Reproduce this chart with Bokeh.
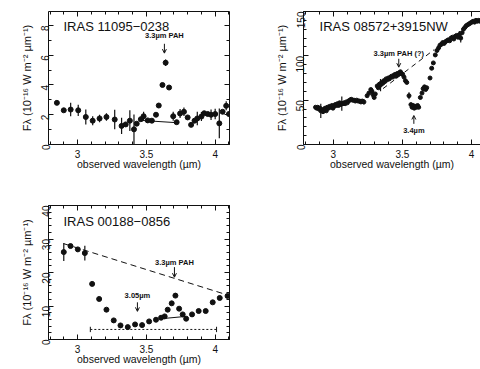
import math
from bokeh.plotting import figure
from bokeh.layouts import column, row
from bokeh.models import (Range1d, LinearAxis, Label, Arrow, OpenHead,
                          SingleIntervalTicker, CustomJSTickFormatter,
                          CustomLabelingPolicy)
from bokeh.embed import file_html
from bokeh.resources import INLINE

FONT = "Liberation Sans"
INK = "#111111"

# ---------------- data: IRAS 11095-0238 ----------------
p1_wl = [2.85, 2.90, 2.95, 3.005, 3.06, 3.11, 3.16, 3.21, 3.27, 3.32, 3.35, 3.38,
         3.41, 3.43, 3.46, 3.48, 3.51, 3.54, 3.57, 3.59, 3.617, 3.64, 3.665, 3.695,
         3.72, 3.745, 3.773, 3.80, 3.825, 3.85, 3.87, 3.90, 3.92, 3.946, 3.97, 4.0,
         4.03, 4.054, 4.08, 4.10]
p1_flux = [2.8, 2.3, 2.35, 2.3, 1.85, 1.6, 1.75, 1.85, 1.68, 1.25, 1.35, 1.6,
           1.02, 1.4, 1.7, 1.9, 1.62, 1.6, 2.0, 2.62, 4.0, 5.5, 3.83, 1.9,
           1.5, 2.08, 2.2, 1.82, 1.32, 1.6, 1.75, 1.88, 2.1, 2.05, 2.0, 2.05,
           1.42, 2.2, 2.6, 2.05]
p1_err = [0, 0, 0.45, 0.38, 0.5, 0.3, 0.25, 0.25, 0.65, 0.55, 0, 0.7,
          1.0, 0, 0, 0.3, 0, 0, 0, 0, 0, 0.22, 0, 0.3,
          0, 0.3, 0.28, 0, 0, 0, 0.45, 0.3, 0, 0, 0.35, 0.35,
          1.0, 0, 0.3, 0]
p1_base_wl = [3.46, 3.715]
p1_base_flux = [1.62, 1.47]

# ---------------- data: IRAS 08572+3915NW ----------------
p2_wl = [2.872, 2.880, 2.888, 2.896, 2.904, 2.910, 2.918, 2.926, 2.934, 2.942,
         2.950, 2.958, 2.966, 2.974, 2.982, 2.990, 2.998, 3.006, 3.014, 3.022,
         3.030, 3.038, 3.046, 3.054, 3.062, 3.070, 3.078, 3.086, 3.094, 3.102,
         3.110, 3.120, 3.130, 3.140, 3.150, 3.160, 3.170, 3.180, 3.190, 3.200,
         3.210, 3.222, 3.245, 3.258, 3.272, 3.280, 3.288, 3.296, 3.304, 3.318,
         3.326, 3.334, 3.342, 3.350, 3.358, 3.366, 3.374, 3.382, 3.390, 3.398,
         3.406, 3.414, 3.422, 3.430, 3.438, 3.446, 3.454, 3.462, 3.470, 3.478,
         3.486, 3.494, 3.502, 3.512, 3.522, 3.532, 3.548, 3.562, 3.570, 3.578,
         3.586, 3.594, 3.602, 3.610, 3.618, 3.630, 3.642, 3.650, 3.660, 3.668,
         3.676, 3.700, 3.712, 3.724, 3.738, 3.750, 3.762, 3.772, 3.782, 3.792,
         3.802, 3.812, 3.822, 3.832, 3.842, 3.852, 3.862, 3.872, 3.882, 3.892,
         3.902, 3.912, 3.922, 3.932, 3.942, 3.952, 3.962, 3.972, 3.982, 3.992,
         4.002, 4.012, 4.022, 4.032, 4.042, 4.052, 4.062]
p2_flux = [42, 41, 42, 40, 41, 38, 39, 37, 40, 41,
           38, 42, 41, 43, 42, 44, 41, 43, 45, 44,
           46, 44, 47, 45, 46, 46, 47, 46, 48, 47,
           49, 50, 51, 50, 50, 49, 50, 49, 49, 48,
           49, 48, 55, 58, 62, 60, 56, 53, 57, 66,
           64, 68, 67, 70, 69, 72, 71, 74, 73, 75,
           74, 76, 77, 76, 78, 79, 77, 80, 79, 81,
           82, 80, 79, 76, 72, 70, 55, 45, 42, 44,
           41, 43, 42, 44, 42, 53, 58, 63, 65, 62,
           64, 75, 86, 92, 101, 106, 109, 112, 113, 115,
           114, 116, 117, 118, 117, 120, 121, 119, 122, 123,
           121, 124, 120, 126, 130, 132, 134, 135, 136, 137,
           138, 139, 138, 140, 139, 140, 139]
p2_err_wl = [2.910, 3.062, 3.222, 3.342, 3.548, 3.922, 3.912]
p2_err_flux = [38, 46, 48, 67, 55, 120, 124]
p2_err = [8, 8, 3, 7, 4, 5, 4]
p2_cont_wl = [3.36, 3.73]
p2_cont_flux = [63, 107]

# ---------------- data: IRAS 00188-0856 ----------------
p3_wl = [2.90, 2.949, 3.002, 3.053, 3.106, 3.157, 3.21, 3.263, 3.312, 3.365,
         3.418, 3.469, 3.52, 3.57, 3.607, 3.633, 3.655, 3.684, 3.711, 3.738,
         3.764, 3.789, 3.832, 3.88, 3.931, 3.982, 4.033, 4.09]
p3_flux = [26.1, 27.9, 26.9, 25.8, 16.6, 12.1, 8.9, 5.7, 4.2, 3.7,
           4.5, 4.3, 5.4, 5.9, 6.5, 6.9, 8.9, 10.8, 13.1, 9.2,
           7.5, 6.2, 7.5, 8.5, 8.5, 11.1, 12.4, 13.0]
p3_err = [2.7, 0, 0, 2.2, 0, 0, 0, 0, 0.7, 0,
          0.5, 0, 0, 0, 0, 0, 0.6, 0.6, 0, 0,
          0, 0, 0, 0, 0, 0.5, 0.6, 0]
p3_cont_wl = [2.90, 4.104]
p3_cont_flux = [28.6, 13.1]
p3_base_wl = [3.607, 3.789]
p3_base_flux = [6.2, 6.9]
p3_band_wl = [3.093, 4.01]
p3_band_flux = [3.0, 3.0]

XTICK_FMT = CustomJSTickFormatter(code="return String(tick);")
YLABEL = "F\u03bb (10\u207b\u00b9\u2076 W m\u207b\u00b2 \u00b5m\u207b\u00b9)"
XLABEL = "observed wavelength (\u00b5m)"


def style_axis(ax, labels=True):
    ax.axis_line_color = INK
    ax.axis_line_width = 1
    ax.major_tick_line_color = INK
    ax.minor_tick_line_color = INK
    ax.major_tick_in = 5
    ax.major_tick_out = 0
    ax.minor_tick_in = 3
    ax.minor_tick_out = 0
    ax.major_label_text_font = FONT
    ax.major_label_text_color = INK
    ax.axis_label_text_font = FONT
    ax.axis_label_text_font_style = "normal"
    ax.axis_label_text_color = INK
    if not labels:
        ax.major_label_policy = CustomLabelingPolicy(code="return;")
        ax.major_label_standoff = 0
        ax.axis_label = None


def make_panel(xr, yr, width, height, bl, br, bt, bb, xint, yint, yminor,
               right_axis=True, xstand=5, xlab_stand=-3):
    p = figure(width=width, height=height, x_range=Range1d(*xr), y_range=Range1d(*yr),
               output_backend="svg", toolbar_location=None,
               min_border_left=bl, min_border_right=br, min_border_top=bt,
               min_border_bottom=bb, background_fill_color="white",
               border_fill_color="white", outline_line_color=None)
    p.grid.visible = False
    xt = SingleIntervalTicker(interval=xint, num_minor_ticks=5)
    yt = SingleIntervalTicker(interval=yint, num_minor_ticks=yminor)
    xa = p.xaxis[0]
    xa.ticker = xt
    xa.formatter = XTICK_FMT
    style_axis(xa)
    xa.major_label_text_font_size = "10px"
    xa.major_label_standoff = xstand
    xa.axis_label = XLABEL
    xa.axis_label_text_font_size = "10.5px"
    xa.axis_label_standoff = xlab_stand
    ya = p.yaxis[0]
    ya.ticker = yt
    style_axis(ya)
    ya.major_label_text_font_size = "10px"
    ya.major_label_orientation = math.pi / 2
    ya.major_label_standoff = 3
    ya.axis_label = YLABEL
    ya.axis_label_text_font_size = "11px"
    ya.axis_label_standoff = 2
    top = LinearAxis(ticker=SingleIntervalTicker(interval=xint, num_minor_ticks=5))
    style_axis(top, labels=False)
    p.add_layout(top, "above")
    if right_axis:
        rt = LinearAxis(ticker=SingleIntervalTicker(interval=yint, num_minor_ticks=yminor))
        style_axis(rt, labels=False)
        p.add_layout(rt, "right")
    return p


def err_bars(p, xs, ys, es, width=1.2):
    x0, y0, y1 = [], [], []
    for x, y, e in zip(xs, ys, es):
        if e > 0:
            x0.append(x)
            y0.append(y - e)
            y1.append(y + e)
    p.segment(x0=x0, y0=y0, x1=x0, y1=y1, line_color=INK, line_width=width)


def note(p, x, y, text, size="7.5px"):
    p.add_layout(Label(x=x, y=y, text=text, text_align="center", text_baseline="middle",
                       text_font=FONT, text_font_size=size, text_font_style="bold",
                       text_color=INK))


def arrow(p, x, y0, y1):
    p.add_layout(Arrow(end=OpenHead(size=4, line_width=1, line_color=INK),
                       x_start=x, y_start=y0, x_end=x, y_end=y1,
                       line_color=INK, line_width=1))


def title(p, x, y, text):
    p.add_layout(Label(x=x, y=y, text=text, text_align="left", text_baseline="alphabetic",
                       text_font=FONT, text_font_size="13px", text_color=INK))


# ---- panel 1 ----
p1 = make_panel((2.789, 4.104), (0, 8.94), 263, 185, 48, 34, 11, 41, 0.5, 2, 2)
err_bars(p1, p1_wl, p1_flux, p1_err)
p1.line(p1_base_wl, p1_base_flux, line_color=INK, line_width=1)
p1.scatter(p1_wl, p1_flux, size=5, color=INK)
title(p1, 2.898, 7.93, "IRAS 11095\u22120238")
note(p1, 3.631, 7.33, "3.3\u00b5m PAH")
arrow(p1, 3.631, 6.77, 6.14)

# ---- panel 2 ----
p2 = make_panel((2.785, 4.065), (0, 150), 217, 185, 40, 0, 11, 41, 0.5, 50, 5,
                right_axis=False)
p2.line(p2_cont_wl, p2_cont_flux, line_color=INK, line_width=1, line_dash="5 4")
err_bars(p2, p2_err_wl, p2_err_flux, p2_err)
p2.scatter(p2_wl, p2_flux, size=4, color=INK)
title(p2, 2.901, 133, "IRAS 08572+3915NW")
note(p2, 3.474, 102.3, "3.3\u00b5m PAH (?)")
arrow(p2, 3.474, 96.7, 87.2)
note(p2, 3.583, 15.8, "3.4\u00b5m")
arrow(p2, 3.583, 23.3, 32.7)

# ---- panel 3 ----
p3 = make_panel((2.789, 4.104), (0, 40), 263, 183, 48, 34, 20, 29, 0.5, 10, 5)
p3.line(p3_cont_wl, p3_cont_flux, line_color=INK, line_width=1, line_dash="6 4")
p3.line(p3_base_wl, p3_base_flux, line_color=INK, line_width=1)
p3.line(p3_band_wl, p3_band_flux, line_color=INK, line_width=1, line_dash="2 2")
p3.segment(x0=p3_band_wl, y0=[v - 0.8 for v in p3_band_flux],
           x1=p3_band_wl, y1=[v + 0.8 for v in p3_band_flux],
           line_color=INK, line_width=1)
err_bars(p3, p3_wl, p3_flux, p3_err)
p3.scatter(p3_wl, p3_flux, size=5, color=INK)
title(p3, 2.898, 35.2, "IRAS 00188\u22120856")
note(p3, 3.704, 23.1, "3.3\u00b5m PAH")
arrow(p3, 3.704, 21.6, 18.6)
note(p3, 3.435, 13.1, "3.05\u00b5m")
arrow(p3, 3.435, 11.1, 8.4)

layout = column(row(p1, p2), p3)

with open("out.html", "w") as f:
    f.write(file_html(layout, INLINE))
